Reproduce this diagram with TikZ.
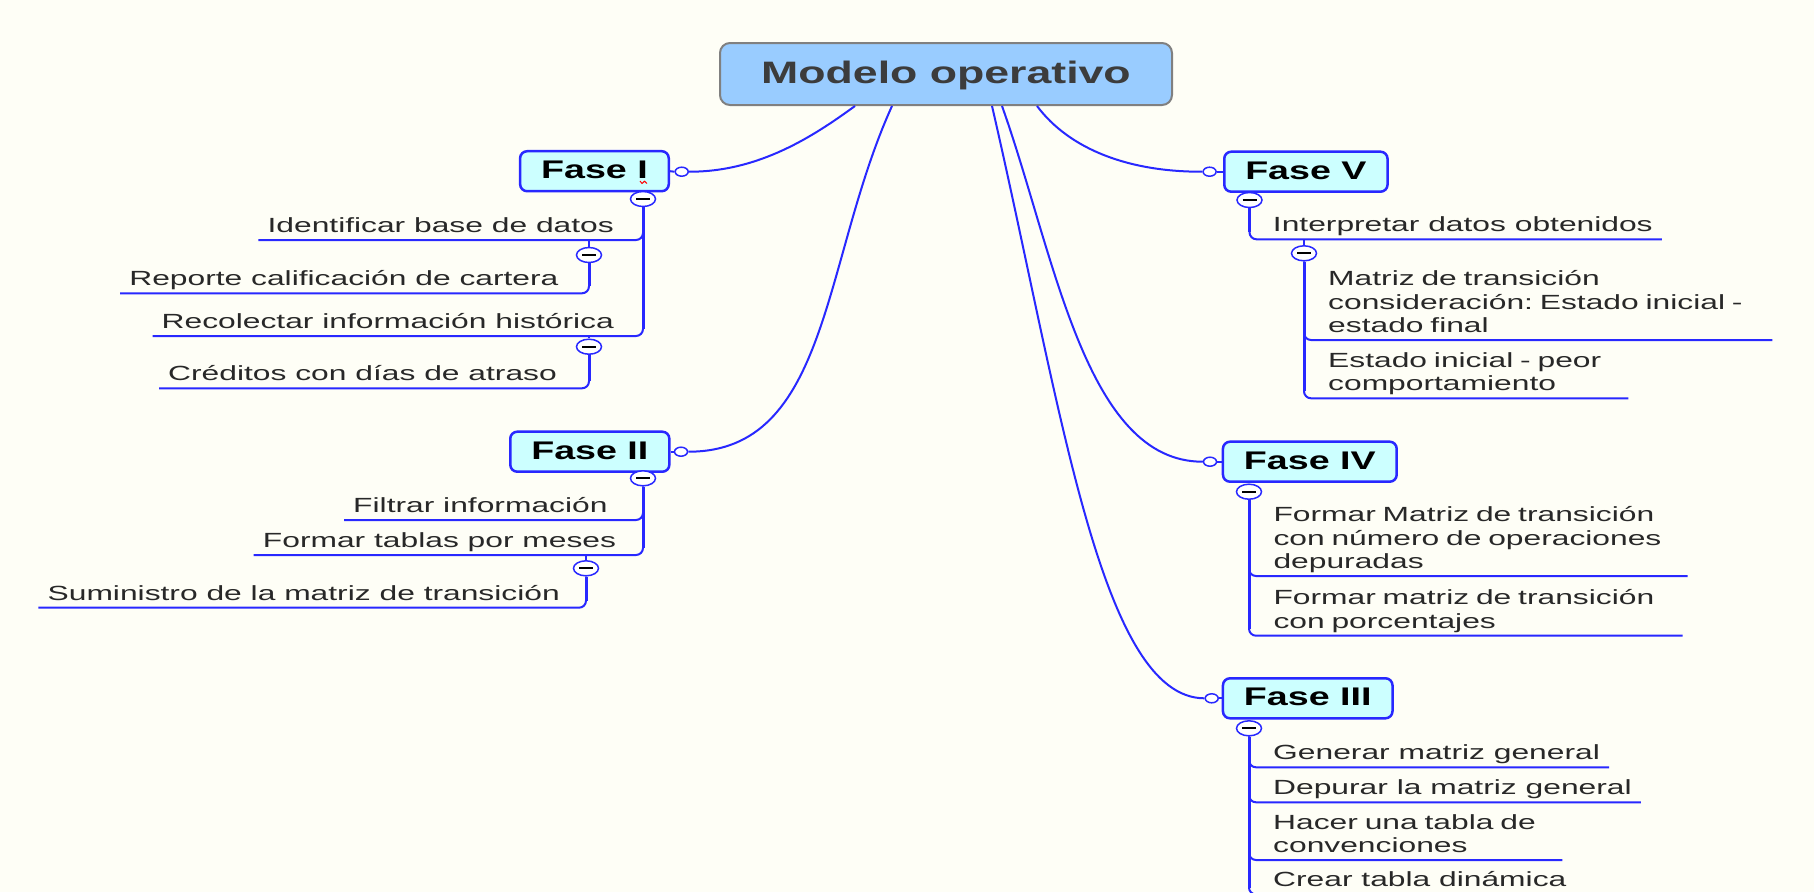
\documentclass[tikz,border=0pt]{standalone}
\usepackage{fontspec}
\usetikzlibrary{shapes.geometric}
\newfontfamily\itemfont{Liberation Sans}[FakeStretch=1.55]
\newfontfamily\phasefont{Liberation Sans}[FakeStretch=1.475]
\newfontfamily\rootfont{Liberation Sans}[FakeStretch=1.44]
\definecolor{bg}{RGB}{254,254,246}
\definecolor{lnblue}{RGB}{40,40,255}
\definecolor{boxfill}{RGB}{204,255,255}
\definecolor{rootfill}{RGB}{153,204,255}
\definecolor{rootborder}{RGB}{128,128,128}
\definecolor{txtgray}{RGB}{40,40,40}
\definecolor{roottxt}{RGB}{60,60,60}
\newcommand\ulstrut{\rule[-7.5pt]{0pt}{1pt}}
\frenchspacing
\begin{document}
\begin{tikzpicture}[x=1pt,y=-1pt,
  rootbox/.style={draw=rootborder, line width=2pt, fill=rootfill, rounded corners=10pt,
    minimum width=452pt, minimum height=62pt, text=roottxt,
    font=\rootfont\bfseries\fontsize{31}{36}\selectfont, text height=22.3pt, text depth=4pt, inner sep=0pt},
  phasebox/.style={draw=lnblue, line width=2.5pt, fill=boxfill, rounded corners=7pt,
    minimum height=40pt, inner xsep=21pt, inner ysep=0pt, text=black,
    font=\phasefont\bfseries\fontsize{25.5}{30}\selectfont, text height=18.3pt, text depth=3.7pt},
  linkdot/.style={ellipse, draw=lnblue, fill=white, line width=1.5pt, minimum width=13pt,
    minimum height=9pt, inner sep=0pt},
  minus/.style={ellipse, draw=lnblue, fill=white, line width=1.5pt, minimum width=25pt,
    minimum height=15pt, inner sep=0pt,
    path picture={\draw[black,line width=1.8pt] ([xshift=-7pt]path picture bounding box.center) -- ([xshift=7pt]path picture bounding box.center);}},
  item/.style={font=\itemfont\fontsize{20.5}{23.3}\selectfont, text=txtgray,
    inner xsep=9pt, inner ysep=0pt, align=left},
  conn/.style={draw=lnblue, line width=2pt},
  ul/.style={draw=lnblue, line width=2pt, rounded corners=7pt},
  trunk/.style={draw=lnblue, line width=3pt}
]
\fill[bg] (0,0) rectangle (1814,892);
\clip (0,0) rectangle (1814,892);

% root
\node[rootbox] (root) at (946,74) {Modelo operativo};

% phase boxes
\node[phasebox, anchor=east] (f1) at (670,171.2) {Fase I};
\node[phasebox, anchor=east] (f2) at (670.6,451.7) {Fase II};
\node[phasebox, anchor=west] (f5) at (1223,171.7) {Fase V};
\node[phasebox, anchor=west] (f4) at (1221.7,461.7) {Fase IV};
\node[phasebox, anchor=west] (f3) at (1221.7,698.3) {Fase III};

% link dots
\node[linkdot] (l1) at (681.7,171.7) {};
\node[linkdot] (l2) at (681,451.7) {};
\node[linkdot] (l5) at (1209.6,171.7) {};
\node[linkdot] (l4) at (1210,461.7) {};
\node[linkdot] (l3) at (1211.7,698.3) {};
\draw[conn] (f1.east) -- (l1.west);
\draw[conn] (f2.east) -- (l2.west);
\draw[conn] (f5.west) -- (l5.east);
\draw[conn] (f4.west) -- (l4.east);
\draw[conn] (f3.west) -- (l3.east);

% connectors from root
\draw[conn] ([xshift=-91pt]root.south) .. controls (815,135) and (760,172) .. (l1.east);
\draw[conn] ([xshift=-54pt]root.south) .. controls (822,260) and (830,452) .. (l2.east);
\draw[conn] ([xshift=91pt]root.south) .. controls (1070,150) and (1130,172) .. (l5.west);
\draw[conn] ([xshift=56pt]root.south) .. controls (1055,255) and (1085,462) .. (l4.west);
\draw[conn] ([xshift=46pt]root.south) .. controls (1061,405) and (1100,698) .. (l3.west);

% ---------- Fase I ----------
\node[item, anchor=south east] (c11) at (623,240) {Identificar base de datos\ulstrut};
\node[item, anchor=south east] (c12) at (567.7,293.3) {Reporte calificación de cartera\ulstrut};
\node[item, anchor=south east] (c13) at (623,336) {Recolectar información histórica\ulstrut};
\node[item, anchor=south east] (c14) at (566,388.3) {Créditos con días de atraso\ulstrut};
\node[minus] (m1) at (643,199) {};
\node[minus] (m11) at (589,255) {};
\node[minus] (m13) at (589,346.7) {};
\draw[ul] (m1.south) |- (c11.south west);
\draw[ul] (m1.south) |- (c13.south west);
\draw[trunk] (m1.south) -- ([yshift=7pt]m1.south |- c13.south);
\draw[ul] (c11.south -| m11) -- (m11.north);
\draw[ul] (m11.south) |- (c12.south west);
\draw[trunk] (m11.south) -- ([yshift=7pt]m11.south |- c12.south);
\draw[ul] (c13.south -| m13) -- (m13.north);
\draw[ul] (m13.south) |- (c14.south west);
\draw[trunk] (m13.south) -- ([yshift=7pt]m13.south |- c14.south);
\draw[red, line width=1pt] (640,181) -- (642,183.5) -- (644.5,181.2) -- (647,183.5);

% ---------- Fase II ----------
\node[item, anchor=south east] (c21) at (616.7,520) {Filtrar información\ulstrut};
\node[item, anchor=south east] (c22) at (625.3,555) {Formar tablas por meses\ulstrut};
\node[item, anchor=south east] (c23) at (569,607.7) {Suministro de la matriz de transición\ulstrut};
\node[minus] (m2) at (643,478.3) {};
\node[minus] (m22) at (586,568.3) {};
\draw[ul] (m2.south) |- (c21.south west);
\draw[ul] (m2.south) |- (c22.south west);
\draw[trunk] (m2.south) -- ([yshift=7pt]m2.south |- c22.south);
\draw[ul] (c22.south -| m22) -- (m22.north);
\draw[ul] (m22.south) |- (c23.south west);
\draw[trunk] (m22.south) -- ([yshift=7pt]m22.south |- c23.south);

% ---------- Fase V ----------
\node[item, anchor=south west] (c51) at (1263.7,239.3) {Interpretar datos obtenidos\ulstrut};
\node[item, anchor=south west, text width=435pt] (c52) at (1319,340) {Matriz de transición\\consideración: Estado inicial -\\estado final\ulstrut};
\node[item, anchor=south west, text width=291pt] (c53) at (1319,398.3) {Estado inicial - peor\\comportamiento\ulstrut};
\node[minus] (m5) at (1249.5,200) {};
\node[minus] (m51) at (1304,253.3) {};
\draw[ul] (m5.south) |- (c51.south east);
\draw[trunk] (m5.south) -- ([yshift=7pt]m5.south |- c51.south);
\draw[ul] (c51.south -| m51) -- (m51.north);
\draw[ul] (m51.south) |- (c52.south east);
\draw[ul] (m51.south) |- (c53.south east);
\draw[trunk] (m51.south) -- ([yshift=7pt]m51.south |- c53.south);

% ---------- Fase IV ----------
\node[item, anchor=south west, text width=405pt] (c41) at (1264.3,576) {Formar Matriz de transición\\con número de operaciones\\depuradas\ulstrut};
\node[item, anchor=south west, text width=400pt] (c42) at (1264.3,635.7) {Formar matriz de transición\\con porcentajes\ulstrut};
\node[minus] (m4) at (1249,491.7) {};
\draw[ul] (m4.south) |- (c41.south east);
\draw[ul] (m4.south) |- (c42.south east);
\draw[trunk] (m4.south) -- ([yshift=7pt]m4.south |- c42.south);

% ---------- Fase III ----------
\node[item, anchor=south west] (c31) at (1264,767.3) {Generar matriz general\ulstrut};
\node[item, anchor=south west] (c32) at (1264,802.3) {Depurar la matriz general\ulstrut};
\node[item, anchor=south west, text width=280pt] (c33) at (1264,860) {Hacer una tabla de\\convenciones\ulstrut};
\node[item, anchor=south west] (c34) at (1264,894.5) {Crear tabla dinámica\ulstrut};
\node[minus] (m3) at (1249,728.3) {};
\draw[ul] (m3.south) |- (c31.south east);
\draw[ul] (m3.south) |- (c32.south east);
\draw[ul] (m3.south) |- (c33.south east);
\draw[ul] (m3.south) |- (c34.south east);
\draw[trunk] (m3.south) -- ([yshift=7pt]m3.south |- c34.south);
\end{tikzpicture}
\end{document}
